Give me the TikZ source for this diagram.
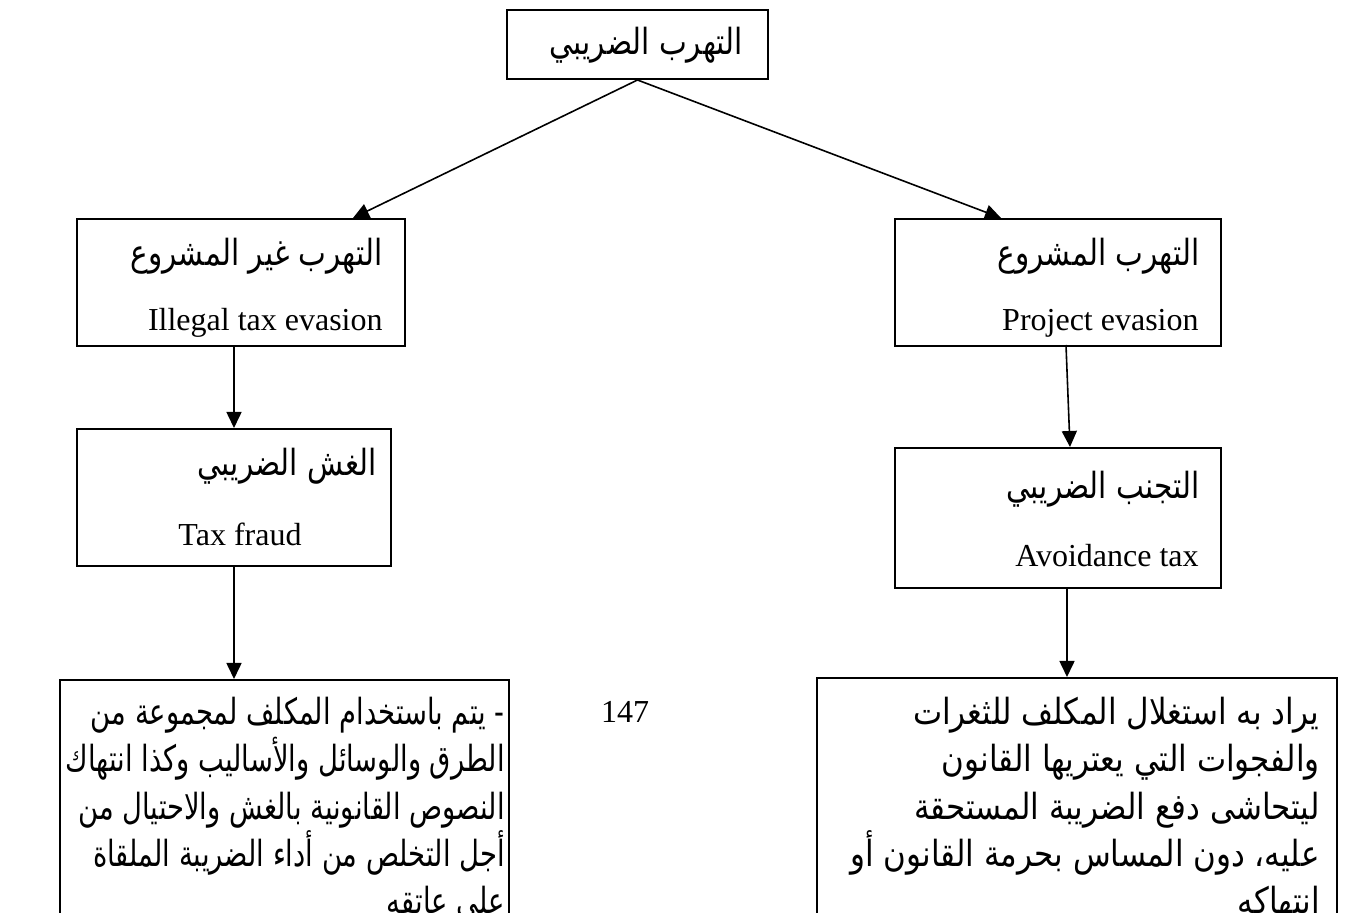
\documentclass[tikz,border=0pt]{standalone}
\usepackage{fontspec}
\setmainfont{Liberation Serif}
\newfontfamily\arabicfont[Script=Arabic,FakeStretch=0.82]{DejaVu Sans}
\newfontfamily\arabicnarrow[Script=Arabic,FakeStretch=0.76]{DejaVu Sans}
\newfontfamily\arabicwide[Script=Arabic,FakeStretch=0.86]{DejaVu Sans}
\newcommand\fixedlines{\lineskiplimit=-100pt\relax}
\TeXXeTstate=1
\usetikzlibrary{arrows.meta,fit,calc}

\tikzset{
  box/.style={draw,line width=1pt,inner sep=0pt},
  conn/.style={-{Triangle[length=8pt,width=7.5pt]},line width=0.8pt},
  artext/.style={font={\arabicfont\fontsize{18}{23.6}\selectfont\fixedlines},inner sep=0pt,align=right},
  parleft/.style={artext,font={\arabicnarrow\fontsize{18}{23.6}\selectfont\fixedlines}},
  parright/.style={artext,font={\arabicwide\fontsize{18}{23.6}\selectfont\fixedlines}},
  entext/.style={font=\fontsize{16}{19}\selectfont,inner sep=0pt},
}

\begin{document}
\begin{tikzpicture}[x=0.5pt,y=-0.5pt]
\useasboundingbox (0,0) rectangle (1346,913);
\clip (0,0) rectangle (1346,913);
% boxes
\node[box,fit={(507,10) (768,79)}] (evasion) {};
\node[box,fit={(77,219) (405,346)}] (illegal) {};
\node[box,fit={(895,219) (1221,346)}] (legal) {};
\node[box,fit={(77,429) (391,566)}] (fraud) {};
\node[box,fit={(895,448) (1221,588)}] (avoid) {};
\node[box,fit={(60,680) (509,960)}] (fraudtext) {};
\node[box,fit={(817,678) (1337,960)}] (avoidtext) {};
% titles
\node[artext] (evasionlbl) at (646,45) {\beginR التهرب الضريبي\endR};
\node[artext,anchor=east] (illegalar) at (383,256) {\beginR التهرب غير المشروع\endR};
\node[entext,anchor=east] (illegalen) at (383,323) {Illegal tax evasion};
\node[artext,anchor=east] (legalar) at (1200,256) {\beginR التهرب المشروع\endR};
\node[entext,anchor=east] (legalen) at (1199,323) {Project evasion};
\node[artext,anchor=east] (fraudar) at (377,466) {\beginR الغش الضريبي\endR};
\node[entext] (frauden) at (240,534) {Tax fraud};
\node[artext,anchor=east] (avoidar) at (1200,489) {\beginR التجنب الضريبي\endR};
\node[entext,anchor=east] (avoiden) at (1199,556) {Avoidance tax};
% explanations
\node[parleft,anchor=north east] (fraudpar) at (505,697) {%
\beginR - يتم باستخدام المكلف لمجموعة من\endR\\
\beginR الطرق والوسائل والأساليب وكذا انتهاك\endR\\
\beginR النصوص القانونية بالغش والاحتيال من\endR\\
\beginR أجل التخلص من أداء الضريبة الملقاة\endR\\
\beginR على عاتقه\endR};
\node[parright,anchor=north east] (avoidpar) at (1320,697) {%
\beginR يراد به استغلال المكلف للثغرات\endR\\
\beginR والفجوات التي يعتريها القانون\endR\\
\beginR ليتحاشى دفع الضريبة المستحقة\endR\\
\beginR عليه، دون المساس بحرمة القانون أو\endR\\
\beginR انتهاكه\endR};
\node[entext] (pagenum) at (625,712) {147};
% connectors
\draw[conn] (evasion.south) -- ($(illegal.north east)+(-53,0)$);
\draw[conn] (evasion.south) -- ($(legal.north west)+(107,0)$);
\draw[conn] (fraud.north |- illegal.south) -- (fraud.north);
\draw[conn] ($(avoid.north)+(8,-102)$) -- ($(avoid.north)+(12,0)$);
\draw[conn] (fraud.south) -- (fraud.south |- fraudtext.north);
\draw[conn] ($(avoid.south)+(9,0)$) -- ($(avoid.south |- avoidtext.north)+(9,0)$);
\end{tikzpicture}
\end{document}
